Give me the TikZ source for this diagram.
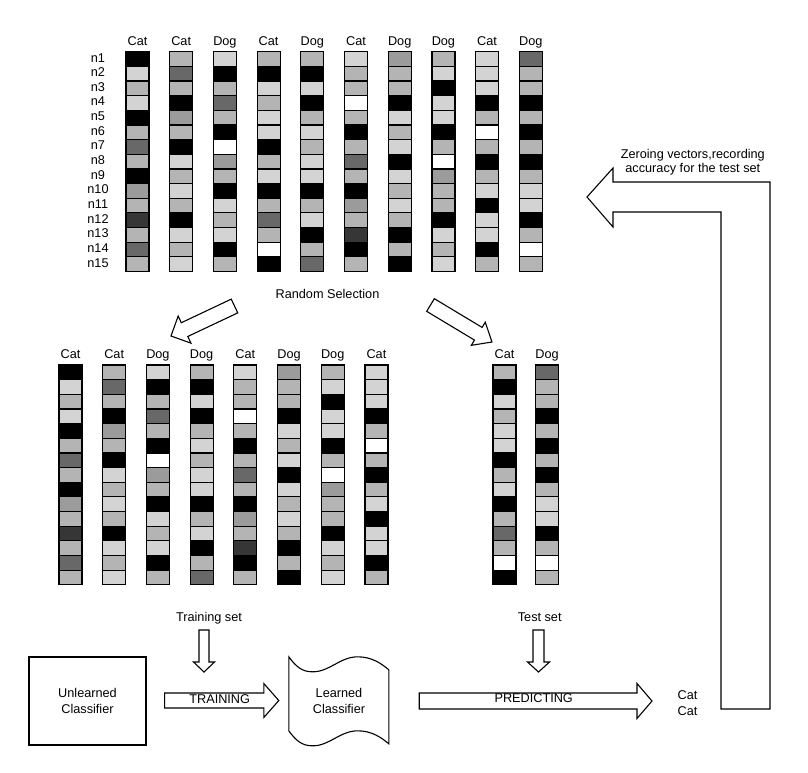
\documentclass[tikz,border=0pt]{standalone}
\usepackage{fontspec}
\setmainfont{Liberation Sans}
\usetikzlibrary{calc}

\definecolor{cellB}{HTML}{000000}
\definecolor{cellK}{HTML}{363636}
\definecolor{cellD}{HTML}{686868}
\definecolor{cellM}{HTML}{9B9B9B}
\definecolor{cellG}{HTML}{B4B4B4}
\definecolor{cellL}{HTML}{D3D3D3}
\definecolor{cellW}{HTML}{FFFFFF}

\def\vecA{B,L,G,L,B,G,D,G,B,M,G,K,G,D,G}
\def\vecB{G,D,G,B,M,G,B,L,G,L,G,B,L,G,L}
\def\vecC{L,B,G,D,G,B,W,M,G,B,L,G,L,B,G}
\def\vecD{G,B,L,G,L,L,B,G,L,B,G,D,G,W,B}
\def\vecE{G,B,L,B,G,L,G,L,L,B,G,L,B,G,D}
\def\vecF{L,G,G,W,G,B,G,D,G,B,M,G,K,B,G}
\def\vecG{M,G,G,B,L,G,L,B,L,G,L,G,B,G,B}
\def\vecH{G,L,B,L,L,B,G,W,M,G,G,B,L,G,L}
\def\vecI{L,L,L,B,G,W,G,B,G,L,B,L,L,B,G}
\def\vecJ{D,G,G,B,G,B,G,B,G,L,L,B,G,W,G}

% name, class, left x, top y, cells
\newcommand\featcol[5]{%
  \node[classtag] (#1-tag) at ({#3+11.5}, {#4-6.5}) {#2};
  \foreach \v [count=\r] in #5 {
    \node[vcell, fill=cell\v] (#1-\r) at ({#3+11.5}, {#4+(\r-0.5)*14.65}) {};
  }}

% tail, tip, shaft half width, head half width, head length
\newcommand\blockarrow[5]{%
  \coordinate (ba) at ($#2!#5!#1$);
  \draw[shapeline] ($#1!#3!90:#2$) -- ($(ba)!#3!90:#2$) -- ($(ba)!#4!90:#2$) -- #2
    -- ($(ba)!#4!-90:#2$) -- ($(ba)!#3!-90:#2$) -- ($#1!#3!-90:#2$) -- cycle;}

\begin{document}
\begin{tikzpicture}[x=1pt, y=-1pt,
    every node/.style={font=\fontsize{12.7}{16}\selectfont, inner sep=0pt},
    vcell/.style={draw, line width=1.2pt, minimum width=23pt, minimum height=14.65pt},
    classtag/.style={anchor=base},
    rowtag/.style={anchor=base},
    shapeline/.style={draw, fill=white, line width=1.1pt, line join=miter},
    plainbox/.style={draw, line width=1.1pt, minimum width=117pt, minimum height=88pt, align=center},
  ]
  \path[fill=white] (0,0) rectangle (808,772);

  \foreach \r in {1,...,15}
    \node[rowtag] (n\r) at (98, {51.7+(\r-0.5)*14.65+3}) {n\r};

  \featcol{all1}{Cat}{126}{51.7}{\vecA}
  \featcol{all2}{Cat}{169.7}{51.7}{\vecB}
  \featcol{all3}{Dog}{213.4}{51.7}{\vecC}
  \featcol{all4}{Cat}{257.1}{51.7}{\vecD}
  \featcol{all5}{Dog}{300.8}{51.7}{\vecE}
  \featcol{all6}{Cat}{344.5}{51.7}{\vecF}
  \featcol{all7}{Dog}{388.2}{51.7}{\vecG}
  \featcol{all8}{Dog}{431.9}{51.7}{\vecH}
  \featcol{all9}{Cat}{475.6}{51.7}{\vecI}
  \featcol{all10}{Dog}{519.3}{51.7}{\vecJ}

  \node[anchor=base] (select) at (327.5,298.3) {Random Selection};
  \coordinate (sel-l0) at (234.5,306);
  \coordinate (sel-l1) at (171,336);
  \coordinate (sel-r0) at (430.5,305);
  \coordinate (sel-r1) at (492,342);
  \blockarrow{(sel-l0)}{(sel-l1)}{7.6pt}{15pt}{15pt}
  \blockarrow{(sel-r0)}{(sel-r1)}{7.4pt}{13.5pt}{16pt}

  \featcol{trn1}{Cat}{59}{365}{\vecA}
  \featcol{trn2}{Cat}{102.7}{365}{\vecB}
  \featcol{trn3}{Dog}{146.4}{365}{\vecC}
  \featcol{trn4}{Dog}{190.1}{365}{\vecE}
  \featcol{trn5}{Cat}{233.8}{365}{\vecF}
  \featcol{trn6}{Dog}{277.5}{365}{\vecG}
  \featcol{trn7}{Dog}{321.2}{365}{\vecH}
  \featcol{trn8}{Cat}{364.9}{365}{\vecI}

  \featcol{tst1}{Cat}{493}{365}{\vecD}
  \featcol{tst2}{Dog}{535.5}{365}{\vecJ}

  \node[anchor=base] (trainset) at (209,621.7) {Training set};
  \node[anchor=base] (testset) at (539.7,621.7) {Test set};
  \coordinate (trn-in0) at (204,630);
  \coordinate (trn-in1) at (204,672);
  \coordinate (tst-in0) at (538.5,630);
  \coordinate (tst-in1) at (538.5,672);
  \blockarrow{(trn-in0)}{(trn-in1)}{5pt}{10.5pt}{10pt}
  \blockarrow{(tst-in0)}{(tst-in1)}{5.5pt}{11pt}{10pt}

  \node[plainbox] (unlearned) at (87.5,701) {Unlearned\\Classifier};
  \node[minimum width=100pt, minimum height=88pt, align=center] (learned) at (339,701) {Learned\\Classifier};
  \draw[line width=1.1pt, shift={(learned.north west)}]
    (0,0) .. controls (8,11) and (14,15) .. (24,15) .. controls (41,15) and (51,0) .. (69,0)
    .. controls (83,0) and (93,7) .. (100,13) -- (100,87)
    .. controls (93,81) and (83,74) .. (69,74) .. controls (51,74) and (41,89) .. (24,89)
    .. controls (14,89) and (8,85) .. (0,74) -- cycle;

  \coordinate (train0) at ($(unlearned.east)+(18,-0.5)$);
  \coordinate (train1) at ($(learned.west)+(-10,-0.5)$);
  \blockarrow{(train0)}{(train1)}{7.5pt}{17pt}{15pt}
  \node[anchor=base] (trainword) at (219.7,703.3) {TRAINING};

  \coordinate (pred0) at ($(learned.east)+(30,0)$);
  \coordinate (pred1) at (652,701);
  \blockarrow{(pred0)}{(pred1)}{8pt}{17.5pt}{15pt}
  \node[anchor=base] (predword) at (533.7,702.7) {PREDICTING};

  \node[align=center] (result) at (687.5,703.2) {Cat\\Cat};

  \draw[shapeline] (721,709) -- (770,709) -- (770,182) -- (613,182) -- (613,168)
    -- (587,197) -- (613,227) -- (613,212) -- (721,212) -- cycle;
  \node[align=center, font=\fontsize{12.7}{14.4}\selectfont] (zeroing) at (692.8,162.3)
    {Zeroing vectors,recording\\accuracy for the test set};
\end{tikzpicture}
\end{document}
